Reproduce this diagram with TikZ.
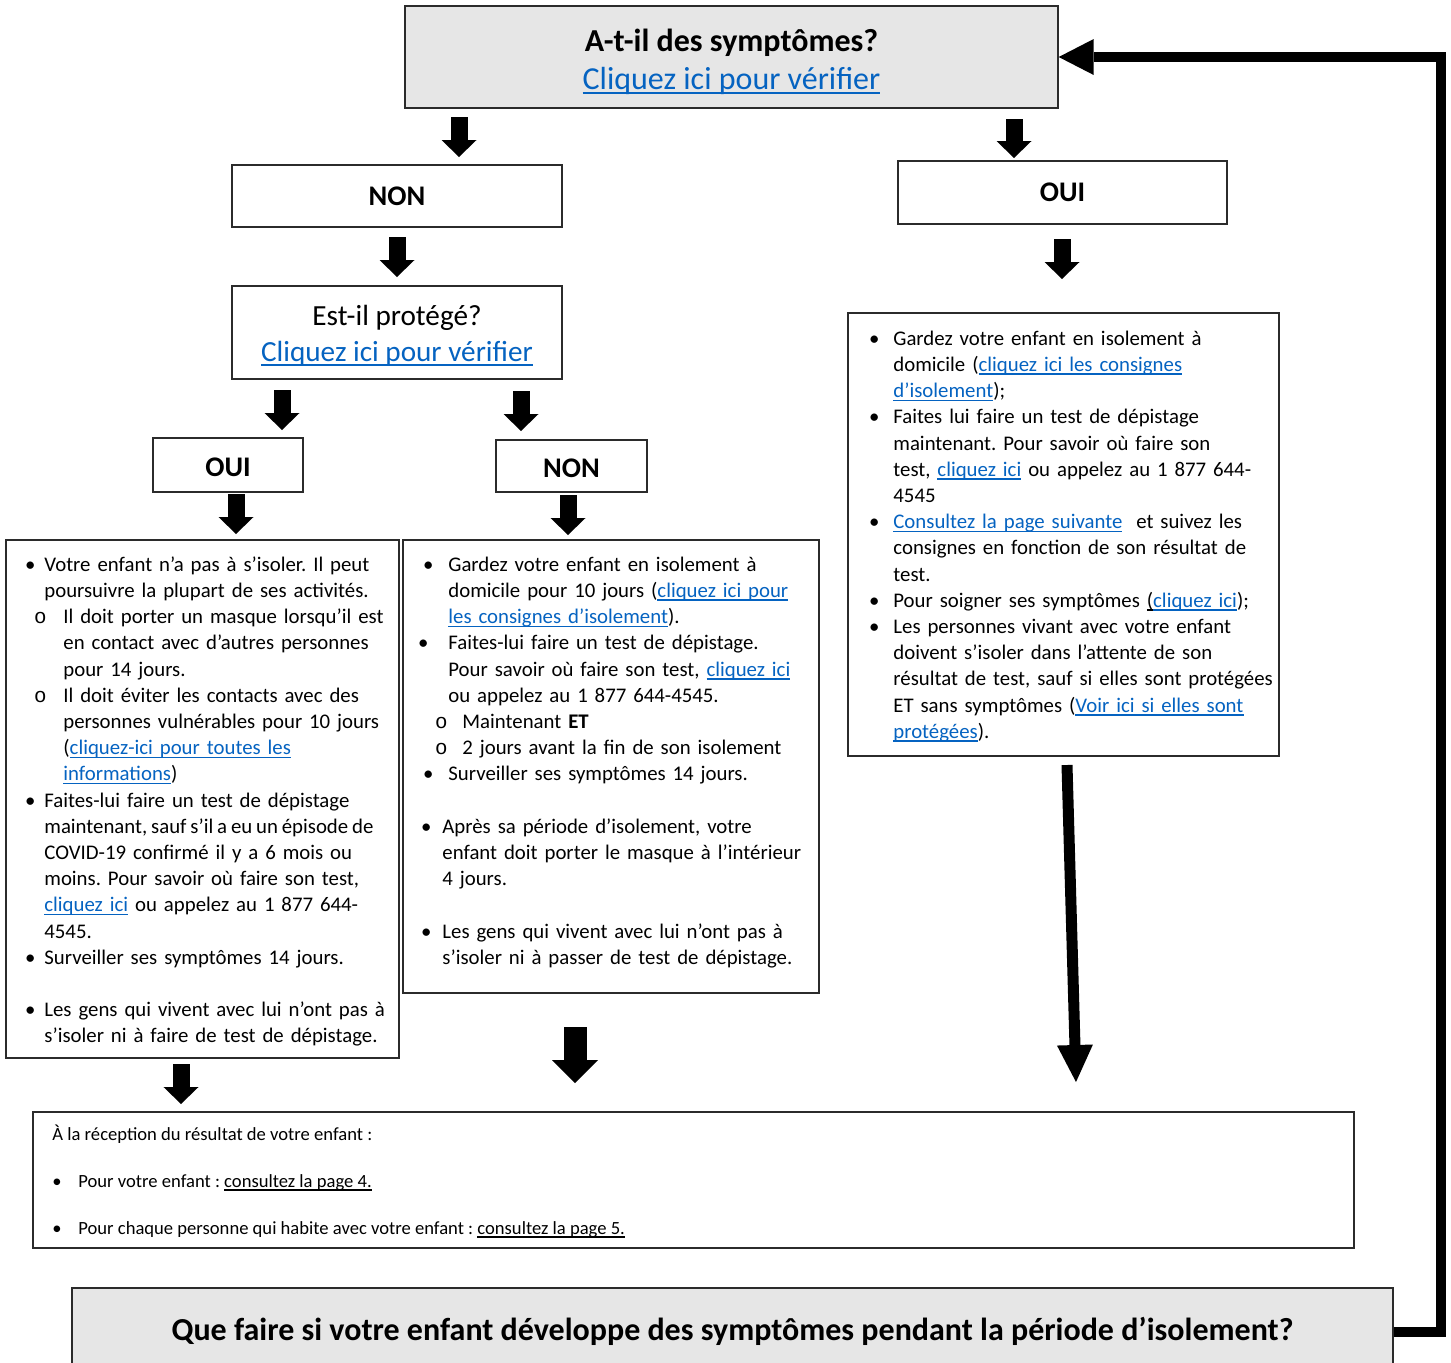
\documentclass[tikz,border=0pt]{standalone}
\usepackage{fontspec}
\setmainfont{Carlito}
\newfontfamily\monofnt{Liberation Mono}
\usetikzlibrary{arrows.meta}
\definecolor{linkblue}{HTML}{0563C1}
\definecolor{boxgray}{HTML}{E6E6E6}
\definecolor{edgecol}{HTML}{2B2B2B}
\newcommand{\uln}[1]{\leavevmode\setbox0\hbox{#1}\rlap{\rule[-0.17em]{\wd0}{0.075em}}\box0}
\newcommand{\lnk}[1]{{\color{linkblue}\uln{#1}}}
\newcommand{\ob}{{\monofnt o}}
\newcommand{\tight}[1]{{\spaceskip=0.82\fontdimen2\font plus 0.1\fontdimen2\font #1}}
\newenvironment{blist}[2]{\begin{list}{\textbullet}{%
  \setlength\leftmargin{#1}\setlength\labelsep{#2}\setlength\labelwidth{0pt}%
  \setlength\itemsep{0pt}\setlength\parsep{0pt}\setlength\topsep{0pt}%
  \setlength\partopsep{0pt}\setlength\itemindent{0pt}\setlength\listparindent{0pt}%
  \renewcommand\makelabel[1]{\makebox[0pt][c]{##1}}}}{\end{list}}
\begin{document}
\frenchspacing
\begin{tikzpicture}[x=0.5pt,y=-0.5pt,
  box/.style={draw=edgecol, line width=0.7pt, inner sep=0pt},
  sz/.style 2 args={minimum width=#1*0.5pt, minimum height=#2*0.5pt},
  lab/.style={font=\fontsize{14.2}{17}\selectfont\bfseries},
  txt/.style={inner sep=0pt, align=left, font=\fontsize{10.4}{13.1}\selectfont\frenchspacing},
  small/.style={inner sep=0pt, font=\fontsize{9.3}{11}\selectfont},
  barrow/.style={line width=8.5pt, -{Triangle[length=8.5pt,width=17.5pt,line width=0pt]}},
  bigarrow/.style={line width=11.5pt, -{Triangle[length=11.5pt,width=23pt,line width=0pt]}},
  longarrow/.style={line width=5.5pt, -{Triangle[length=18.5pt,width=18pt,line width=0pt]}},
  fbarrow/.style={line width=5pt, line join=miter, -{Triangle[length=17.5pt,width=18pt,line width=0pt]}}]
\useasboundingbox (0,0) rectangle (1451,1362);
\fill[white] (0,0) rectangle (1451,1362);

% question box
\node[box, fill=boxgray, sz={653}{102}] (top) at (731.5,57) {};
\node[inner sep=0pt, align=center, font=\fontsize{16}{19}\selectfont] (topt) at (731.5,61.5)
  {\textbf{A-t-il des symptômes?}\\\lnk{Cliquez ici pour vérifier}};

% first level
\node[box, sz={330}{62}, lab] (non1) at (397,196) {NON};
\node[box, sz={329}{63}, lab] (oui1) at (1062.5,192.5) {OUI};

% protected?
\node[box, sz={330}{93}] (prot) at (397,332.5) {};
\node[inner sep=0pt, align=center, font=\fontsize{14.6}{18}\selectfont] (prott) at (397,335.5)
  {Est-il protégé?\\\lnk{Cliquez ici pour vérifier}};

\node[box, sz={150}{54}, lab, text height=11.5pt] (oui2) at (228,465) {OUI};
\node[box, sz={151}{52}, lab, text height=12pt] (non2) at (571.5,466) {NON};

% content boxes
\node[box, sz={393}{518}] (lbox) at (202.5,799) {};
\node[box, sz={416}{453}] (mbox) at (611,766.5) {};
\node[box, sz={431}{443}] (rbox) at (1063.5,534.5) {};

\node[txt, anchor=base west, text width=192pt] (ltxt) at (30,545) {%
\begin{blist}{7pt}{7pt}
\item Votre enfant n’a pas à s’isoler. Il peut\\poursuivre la plupart de ses activités.
\begin{blist}{9.5pt}{11.5pt}
\item[\ob] Il doit porter un masque lorsqu’il est\\en contact avec d’autres personnes\\pour 14 jours.
\item[\ob] Il doit éviter les contacts avec des\\personnes vulnérables pour 10 jours\\(\lnk{cliquez-ici pour toutes les}\\\lnk{informations})
\end{blist}
\item Faites-lui faire un test de dépistage\\\tight{maintenant, sauf s’il a eu un épisode de}\\COVID-19 confirmé il y a 6 mois ou\\moins. Pour savoir où faire son test,\\\lnk{cliquez ici} ou appelez au 1 877 644-\\4545.
\item Surveiller ses symptômes 14 jours.\\\mbox{}
\item Les gens qui vivent avec lui n’ont pas à\\s’isoler ni à faire de test de dépistage.
\end{blist}};

\node[txt, anchor=base west, text width=193pt] (mtxt) at (428,545) {%
\begin{blist}{10pt}{10pt}
\item Gardez votre enfant en isolement à\\domicile pour 10 jours (\lnk{cliquez ici pour}\\\lnk{les consignes d’isolement}).
\item[\hspace*{-5pt}\textbullet] Faites-lui faire un test de dépistage.\\Pour savoir où faire son test, \lnk{cliquez ici}\\ou appelez au 1 877 644-4545.
\begin{blist}{7pt}{10.5pt}
\item[\ob] Maintenant \textbf{ET}
\item[\ob] 2 jours avant la fin de son isolement
\end{blist}
\item Surveiller ses symptômes 14 jours.\\\mbox{}
\end{blist}
\begin{blist}{7pt}{8pt}
\item Après sa période d’isolement, votre\\enfant doit porter le masque à l’intérieur\\4 jours.\\\mbox{}
\item Les gens qui vivent avec lui n’ont pas à\\s’isoler ni à passer de test de dépistage.
\end{blist}};

\node[txt, anchor=base west, text width=202pt] (rtxt) at (874,319) {%
\begin{blist}{9.5pt}{9.5pt}
\item Gardez votre enfant en isolement à\\domicile (\lnk{cliquez ici les consignes}\\\lnk{d’isolement});
\item Faites lui faire un test de dépistage\\maintenant. Pour savoir où faire son\\test, \lnk{cliquez ici} ou appelez au 1 877 644-\\4545
\item \lnk{Consultez la page suivante}\ \ et suivez les\\consignes en fonction de son résultat de\\test.
\item Pour soigner ses symptômes \uln{(}\lnk{cliquez ici});
\item Les personnes vivant avec votre enfant\\doivent s’isoler dans l’attente de son\\résultat de test, sauf si elles sont protégées\\ET sans symptômes (\lnk{Voir ici si elles sont}\\\lnk{protégées}).
\end{blist}};

% result box
\node[box, sz={1321}{136}] (res) at (693.5,1180) {};
\node[small, anchor=base west] (res0) at (52,1140.5) {À la réception du résultat de votre enfant :};
\node[small, anchor=base] (resb1) at (57,1187.5) {\textbullet};
\node[small, anchor=base west] (res1) at (78,1187.5) {Pour votre enfant : \uln{consultez la page 4.}};
\node[small, anchor=base] (resb2) at (57,1234.5) {\textbullet};
\node[small, anchor=base west] (res2) at (78,1234.5) {Pour chaque personne qui habite avec votre enfant : \uln{consultez la page 5.}};

% isolation box
\node[box, fill=boxgray, sz={1321}{87}] (iso) at (732.5,1331.5) {};
\node[inner sep=0pt, font=\fontsize{16}{19}\selectfont\bfseries, anchor=base] (isot) at (732.5,1340)
  {Que faire si votre enfant développe des symptômes pendant la période d’isolement?};

% block arrows
\coordinate (a1s) at (459,117);  \coordinate (a1e) at (459,157);
\coordinate (a2s) at (1014,119); \coordinate (a2e) at (1014,158);
\coordinate (a3s) at (397,237);  \coordinate (a3e) at (397,277);
\coordinate (a4s) at (1062,239); \coordinate (a4e) at (1062,279);
\coordinate (a5s) at (282,390);  \coordinate (a5e) at (282,430);
\coordinate (a6s) at (521,391);  \coordinate (a6e) at (521,431);
\coordinate (a7s) at (236,494);  \coordinate (a7e) at (236,534);
\coordinate (a8s) at (568,495);  \coordinate (a8e) at (568,535);
\coordinate (a9s) at (181,1064); \coordinate (a9e) at (181,1104);
\coordinate (bms) at (575,1027); \coordinate (bme) at (575,1083);
\coordinate (lrs) at (1067,765); \coordinate (lre) at (1076,1082);
\foreach \i in {1,...,9} \draw[barrow] (a\i s) -- (a\i e);
\draw[bigarrow] (bms) -- (bme);
\draw[longarrow] (lrs) -- (lre);

% feedback loop
\coordinate (fbx) at (1441,0);
\draw[fbarrow] (iso.east) -| (fbx |- top.east) -- (top.east);
\end{tikzpicture}
\end{document}
